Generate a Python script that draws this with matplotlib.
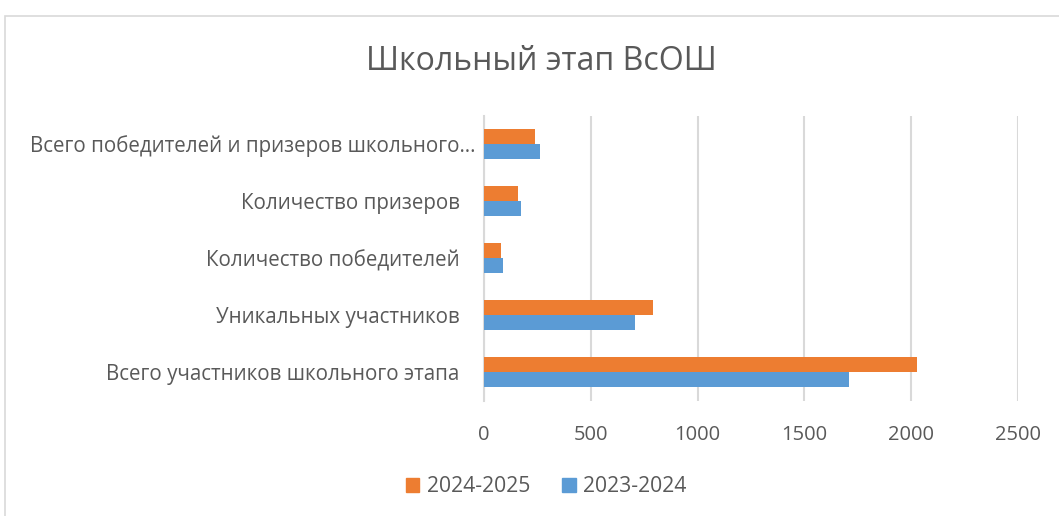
import matplotlib
matplotlib.use("Agg")
import matplotlib.pyplot as plt
import numpy as np
from matplotlib.patches import Patch, Rectangle

plt.rcParams['font.family'] = ['Open Sans', 'DejaVu Sans']

categories = [
    "Всего участников школьного этапа",
    "Уникальных участников",
    "Количество победителей",
    "Количество призеров",
    "Всего победителей и призеров школьного…",
]
series_2024_2025 = [2025, 792, 78, 159, 237]
series_2023_2024 = [1709, 705, 90, 172, 262]
series_names = ["2024-2025", "2023-2024"]
xticks = [0, 500, 1000, 1500, 2000, 2500]

ORANGE = "#ED7D31"
BLUE = "#5B9BD5"
TEXT = "#595959"
GRID = "#D9D9D9"

W, H = 1059, 516
fig = plt.figure(figsize=(W / 100, H / 100), dpi=100)

# chart border
fig.patches.append(Rectangle((5 / W, -0.1), 1.2, 1 - 16 / H + 0.1,
                             transform=fig.transFigure, fill=False,
                             edgecolor=GRID, linewidth=1.2))

ax = fig.add_axes([484 / W, 1 - 400.5 / H, (1018 - 484) / W, (400.5 - 115.5) / H])

y = np.arange(len(categories))
h = 0.265
ax.barh(y + h / 2, series_2024_2025, height=h, color=ORANGE, label=series_names[0], zorder=3)
ax.barh(y - h / 2, series_2023_2024, height=h, color=BLUE, label=series_names[1], zorder=3)

ax.set_xlim(0, 2500)
ax.set_ylim(-0.5, len(categories) - 0.5)
ax.set_xticks(xticks)
ax.set_xticklabels([str(t) for t in xticks])
ax.set_yticks(y)
ax.set_yticklabels([c if c.endswith("…") else c + "   " for c in categories])
ax.tick_params(axis='x', length=0, labelsize=14.5, labelcolor=TEXT, pad=18)
ax.tick_params(axis='y', length=0, labelsize=14.8, labelcolor=TEXT, pad=6)
ax.grid(axis='x', color=GRID, linewidth=1.5, zorder=0)
for s in ["top", "right", "bottom"]:
    ax.spines[s].set_visible(False)
ax.spines["left"].set_color(GRID)
ax.spines["left"].set_linewidth(1.5)
ax.set_facecolor("none")

fig.text(541 / W, 1 - 61 / H, "Школьный этап ВсОШ", ha="center", va="center",
         fontsize=23, color=TEXT)

handles = [Patch(color=ORANGE, label=series_names[0]),
           Patch(color=BLUE, label=series_names[1])]
fig.legend(handles=handles, loc="center", bbox_to_anchor=(546 / W, 1 - 487 / H),
           ncol=2, frameon=False, fontsize=15.2, labelcolor=TEXT,
           handlelength=0.65, handleheight=0.65, handletextpad=0.35, columnspacing=1.5)

fig.savefig("out.png", dpi=100)
